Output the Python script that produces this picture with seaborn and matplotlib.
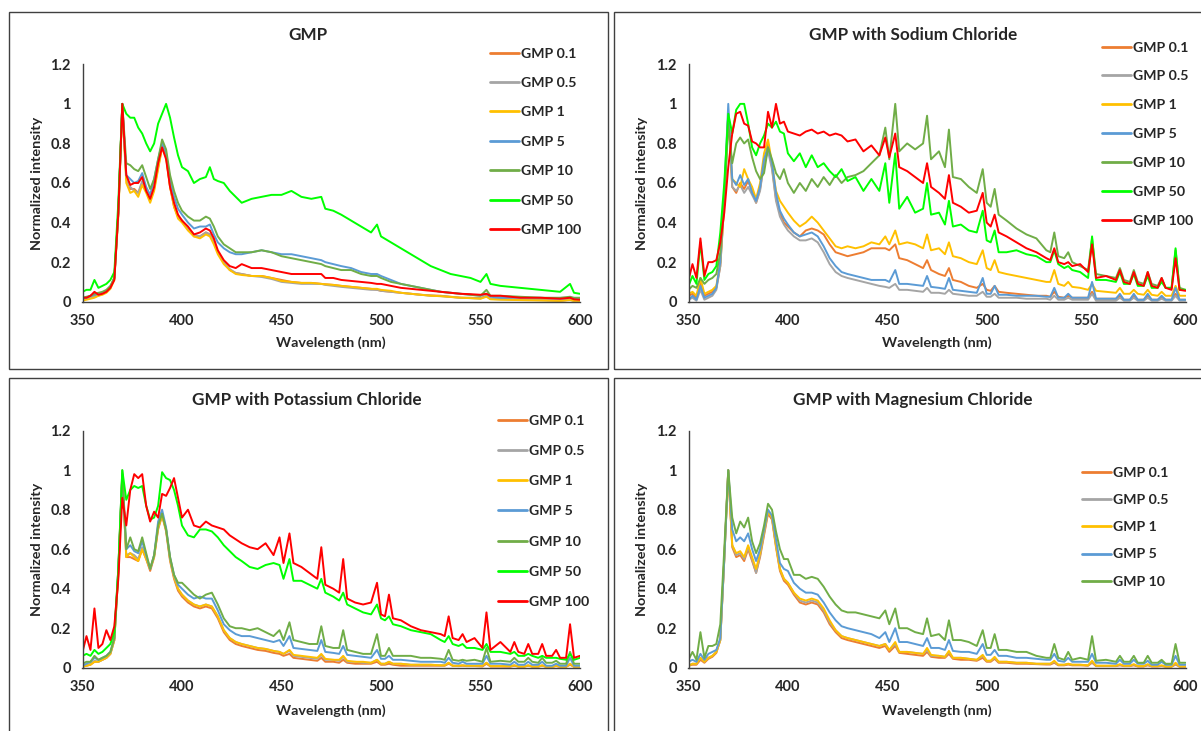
import matplotlib
matplotlib.use("Agg")
import matplotlib.pyplot as plt
import numpy as np
import pandas as pd
import seaborn as sns
from matplotlib.lines import Line2D
from matplotlib.patches import Rectangle
from matplotlib.ticker import FuncFormatter

sns.set_theme(style="white")
plt.rcParams["font.family"] = ["Lato", "DejaVu Sans"]

# ---------------- data ----------------
labels7 = ["GMP 0.1", "GMP 0.5", "GMP 1", "GMP 5", "GMP 10", "GMP 50", "GMP 100"]
labels5 = ["GMP 0.1", "GMP 0.5", "GMP 1", "GMP 5", "GMP 10"]
colors = {"GMP 0.1": "#ED7D31", "GMP 0.5": "#A5A5A5", "GMP 1": "#FFC000",
          "GMP 5": "#5B9BD5", "GMP 10": "#70AD47", "GMP 50": "#00FF00",
          "GMP 100": "#FF0000"}
titles = ["GMP", "GMP with Sodium Chloride", "GMP with Potassium Chloride",
          "GMP with Magnesium Chloride"]
x_ticks = [350, 400, 450, 500, 550, 600]
y_ticks = [0, 0.2, 0.4, 0.6, 0.8, 1.0, 1.2]

# wavelength grid, panel 1
wl_p1 = [350, 352, 354, 356, 358, 360, 362, 364, 366, 368,
         370, 372, 374, 376, 378, 380, 382, 384, 386, 388,
         390, 392, 394, 396, 398, 400,
         403, 406, 409, 412, 414, 416, 418, 421, 424, 427,
         430, 435, 440, 445,
         450, 455, 460, 465, 470, 472, 476, 480, 485, 490,
         495, 498, 500, 505, 510, 515, 520, 525, 530, 535,
         540, 545, 550, 553, 555, 560, 570, 580, 590, 595,
         597, 600]

p1_01 = [0.01, 0.015, 0.02, 0.03, 0.035, 0.04, 0.05, 0.07, 0.12, 0.45,
         1.0, 0.63, 0.57, 0.57, 0.55, 0.60, 0.56, 0.51, 0.57, 0.68,
         0.78, 0.74, 0.58, 0.48, 0.43, 0.41,
         0.37, 0.33, 0.33, 0.35, 0.34, 0.30, 0.25, 0.20, 0.16, 0.145,
         0.14, 0.13, 0.13, 0.12,
         0.11, 0.10, 0.095, 0.095, 0.09, 0.088, 0.085, 0.08, 0.075, 0.07,
         0.065, 0.06, 0.055, 0.05, 0.045, 0.04, 0.035, 0.032, 0.03, 0.025,
         0.02, 0.02, 0.018, 0.03, 0.015, 0.015, 0.01, 0.01, 0.005, 0.01,
         0.005, 0.005]
p1_05 = [0.01, 0.015, 0.02, 0.025, 0.03, 0.04, 0.05, 0.07, 0.12, 0.45,
         1.0, 0.62, 0.58, 0.56, 0.55, 0.61, 0.56, 0.52, 0.58, 0.69,
         0.79, 0.74, 0.59, 0.49, 0.43, 0.41,
         0.37, 0.34, 0.33, 0.35, 0.34, 0.30, 0.25, 0.20, 0.165, 0.145,
         0.14, 0.13, 0.125, 0.115,
         0.10, 0.095, 0.09, 0.09, 0.09, 0.085, 0.08, 0.075, 0.07, 0.065,
         0.06, 0.06, 0.055, 0.05, 0.045, 0.04, 0.035, 0.03, 0.028, 0.024,
         0.02, 0.018, 0.016, 0.028, 0.014, 0.012, 0.01, 0.008, 0.005, 0.01,
         0.005, 0.005]
p1_1 = [0.005, 0.01, 0.015, 0.02, 0.03, 0.035, 0.045, 0.065, 0.11, 0.43,
        0.98, 0.60, 0.55, 0.56, 0.53, 0.59, 0.55, 0.50, 0.56, 0.67,
        0.78, 0.73, 0.58, 0.48, 0.42, 0.40,
        0.36, 0.33, 0.32, 0.34, 0.33, 0.29, 0.24, 0.19, 0.16, 0.14,
        0.135, 0.13, 0.13, 0.12,
        0.105, 0.10, 0.095, 0.095, 0.09, 0.088, 0.085, 0.08, 0.075, 0.07,
        0.065, 0.065, 0.06, 0.055, 0.045, 0.04, 0.035, 0.03, 0.028, 0.024,
        0.02, 0.018, 0.015, 0.025, 0.012, 0.01, 0.008, 0.006, 0.004, 0.008,
        0.004, 0.004]
p1_5 = [0.02, 0.02, 0.03, 0.035, 0.04, 0.045, 0.055, 0.075, 0.12, 0.45,
        1.0, 0.64, 0.62, 0.60, 0.61, 0.65, 0.58, 0.54, 0.62, 0.72,
        0.80, 0.75, 0.62, 0.53, 0.47, 0.44,
        0.40, 0.37, 0.38, 0.38, 0.39, 0.34, 0.30, 0.27, 0.25, 0.24,
        0.24, 0.25, 0.26, 0.25,
        0.24, 0.24, 0.23, 0.22, 0.21, 0.20, 0.19, 0.18, 0.17, 0.15,
        0.14, 0.14, 0.13, 0.11, 0.09, 0.08, 0.07, 0.06, 0.05, 0.045,
        0.04, 0.035, 0.03, 0.04, 0.025, 0.02, 0.02, 0.02, 0.015, 0.02,
        0.015, 0.015]
p1_10 = [0.02, 0.025, 0.03, 0.04, 0.045, 0.05, 0.06, 0.08, 0.12, 0.45,
         1.0, 0.70, 0.69, 0.67, 0.66, 0.69, 0.63, 0.57, 0.62, 0.72,
         0.82, 0.77, 0.64, 0.56, 0.50, 0.46,
         0.43, 0.41, 0.41, 0.43, 0.42, 0.38, 0.33, 0.29, 0.27, 0.25,
         0.25, 0.25, 0.26, 0.25,
         0.23, 0.22, 0.21, 0.20, 0.19, 0.18, 0.17, 0.16, 0.16, 0.14,
         0.13, 0.13, 0.12, 0.10, 0.09, 0.08, 0.07, 0.06, 0.05, 0.045,
         0.04, 0.035, 0.03, 0.06, 0.03, 0.03, 0.025, 0.02, 0.02, 0.025,
         0.02, 0.02]
p1_50 = [0.05, 0.06, 0.06, 0.11, 0.07, 0.08, 0.09, 0.11, 0.15, 0.50,
         1.0, 0.95, 0.93, 0.93, 0.88, 0.85, 0.80, 0.76, 0.80, 0.90,
         0.95, 1.0, 0.93, 0.83, 0.74, 0.68,
         0.66, 0.60, 0.62, 0.63, 0.68, 0.62, 0.61, 0.60, 0.56, 0.53,
         0.50, 0.52, 0.53, 0.54,
         0.54, 0.56, 0.53, 0.52, 0.53, 0.47, 0.46, 0.44, 0.41, 0.38,
         0.35, 0.39, 0.33, 0.30, 0.27, 0.24, 0.21, 0.18, 0.16, 0.14,
         0.13, 0.12, 0.10, 0.14, 0.09, 0.08, 0.07, 0.06, 0.05, 0.09,
         0.045, 0.04]
p1_100 = [0.02, 0.02, 0.03, 0.05, 0.035, 0.04, 0.05, 0.07, 0.11, 0.45,
          1.0, 0.64, 0.59, 0.60, 0.60, 0.63, 0.56, 0.52, 0.58, 0.70,
          0.78, 0.72, 0.58, 0.50, 0.44, 0.41,
          0.38, 0.34, 0.35, 0.37, 0.36, 0.32, 0.26, 0.21, 0.18, 0.17,
          0.19, 0.17, 0.17, 0.16,
          0.15, 0.14, 0.14, 0.14, 0.14, 0.12, 0.12, 0.11, 0.105, 0.10,
          0.095, 0.09, 0.09, 0.08, 0.07, 0.065, 0.06, 0.055, 0.05, 0.045,
          0.04, 0.038, 0.035, 0.04, 0.03, 0.03, 0.02, 0.02, 0.015, 0.02,
          0.012, 0.01]

# wavelength grid, panels 2-4
wl_sp = [350, 352, 354, 356, 358, 360, 362, 364, 366, 368,
         370, 372, 374, 376, 378, 380, 382, 384, 386, 388,
         390, 392, 394, 396, 398, 400,
         403, 406, 409, 412, 415, 418, 421, 424, 427, 430,
         434, 438, 442, 446,
         449, 451, 454, 456, 460, 464, 468, 470, 472, 476,
         479, 481, 483, 487, 491, 495, 498, 500, 502, 504,
         506, 510,
         515, 520, 525, 530, 532, 534, 536, 539, 541, 543,
         547, 551, 553, 555, 560, 565, 567, 569, 572, 574,
         576, 579, 581, 583, 586, 588, 590, 593, 595, 597,
         600]

# Sodium chloride
p2_01 = [0.03, 0.04, 0.02, 0.10, 0.03, 0.04, 0.05, 0.07, 0.18, 0.50,
         0.95, 0.58, 0.55, 0.60, 0.57, 0.61, 0.56, 0.50, 0.57, 0.70,
         0.80, 0.68, 0.52, 0.45, 0.40, 0.38,
         0.35, 0.33, 0.36, 0.37, 0.36, 0.34, 0.29, 0.25, 0.24, 0.23,
         0.24, 0.25, 0.27, 0.27,
         0.27, 0.26, 0.29, 0.22, 0.21, 0.19, 0.17, 0.21, 0.16, 0.14,
         0.13, 0.17, 0.11, 0.10, 0.08, 0.07, 0.09, 0.06, 0.055, 0.08,
         0.05, 0.045,
         0.04, 0.035, 0.03, 0.03, 0.025, 0.05, 0.025, 0.02, 0.03, 0.02,
         0.02, 0.02, 0.05, 0.015, 0.015, 0.015, 0.03, 0.01, 0.01, 0.03,
         0.01, 0.01, 0.03, 0.01, 0.01, 0.02, 0.01, 0.01, 0.04, 0.01,
         0.01]
p2_05 = [0.01, 0.02, 0.005, 0.06, 0.01, 0.02, 0.03, 0.06, 0.18, 0.50,
         0.95, 0.58, 0.56, 0.59, 0.55, 0.58, 0.54, 0.50, 0.56, 0.70,
         0.76, 0.67, 0.51, 0.43, 0.39, 0.36,
         0.33, 0.31, 0.31, 0.32, 0.30, 0.25, 0.19, 0.15, 0.13, 0.12,
         0.11, 0.10, 0.09, 0.08,
         0.075, 0.07, 0.09, 0.06, 0.06, 0.055, 0.05, 0.07, 0.045, 0.045,
         0.04, 0.06, 0.04, 0.035, 0.03, 0.03, 0.05, 0.025, 0.025, 0.04,
         0.02, 0.02,
         0.02, 0.015, 0.015, 0.015, 0.01, 0.03, 0.01, 0.01, 0.02, 0.01,
         0.01, 0.01, 0.04, 0.005, 0.005, 0.005, 0.02, 0.005, 0.005, 0.02,
         0.005, 0.005, 0.02, 0.005, 0.005, 0.015, 0.005, 0.005, 0.03, 0.005,
         0.005]
p2_1 = [0.04, 0.05, 0.03, 0.12, 0.04, 0.05, 0.06, 0.08, 0.20, 0.50,
        0.95, 0.62, 0.60, 0.58, 0.67, 0.62, 0.58, 0.52, 0.60, 0.75,
        0.82, 0.70, 0.56, 0.51, 0.48, 0.45,
        0.41, 0.38, 0.40, 0.43, 0.40, 0.36, 0.32, 0.28, 0.27, 0.28,
        0.27, 0.28, 0.30, 0.29,
        0.33, 0.29, 0.36, 0.29, 0.30, 0.29, 0.27, 0.34, 0.26, 0.27,
        0.24, 0.30, 0.23, 0.22, 0.20, 0.19, 0.26, 0.17, 0.16, 0.21,
        0.15, 0.14,
        0.13, 0.12, 0.11, 0.10, 0.10, 0.16, 0.09, 0.08, 0.10, 0.075,
        0.07, 0.06, 0.09, 0.055, 0.05, 0.045, 0.07, 0.04, 0.04, 0.06,
        0.04, 0.035, 0.06, 0.035, 0.03, 0.05, 0.03, 0.03, 0.08, 0.03,
        0.03]
p2_5 = [0.01, 0.03, 0.01, 0.08, 0.02, 0.03, 0.04, 0.07, 0.20, 0.55,
        1.0, 0.62, 0.59, 0.64, 0.59, 0.62, 0.55, 0.51, 0.58, 0.72,
        0.78, 0.70, 0.55, 0.46, 0.42, 0.39,
        0.35, 0.33, 0.34, 0.35, 0.33, 0.28, 0.22, 0.18, 0.15, 0.14,
        0.13, 0.12, 0.11, 0.11,
        0.11, 0.10, 0.16, 0.09, 0.09, 0.085, 0.08, 0.13, 0.075, 0.07,
        0.065, 0.12, 0.06, 0.055, 0.05, 0.045, 0.12, 0.04, 0.04, 0.08,
        0.035, 0.035,
        0.03, 0.03, 0.03, 0.025, 0.025, 0.07, 0.02, 0.02, 0.04, 0.02,
        0.02, 0.02, 0.10, 0.015, 0.015, 0.015, 0.04, 0.01, 0.01, 0.04,
        0.01, 0.01, 0.04, 0.01, 0.01, 0.03, 0.01, 0.01, 0.07, 0.01,
        0.01]
p2_10 = [0.06, 0.08, 0.07, 0.12, 0.09, 0.11, 0.12, 0.14, 0.25, 0.50,
         0.90, 0.70, 0.80, 0.83, 0.80, 0.82, 0.73, 0.66, 0.62, 0.65,
         0.78, 0.72, 0.65, 0.62, 0.67, 0.60,
         0.55, 0.60, 0.56, 0.62, 0.58, 0.63, 0.59, 0.64, 0.60, 0.63,
         0.64, 0.66, 0.70, 0.74,
         0.88, 0.72, 1.0, 0.76, 0.80, 0.77, 0.80, 0.94, 0.72, 0.76,
         0.68, 0.87, 0.63, 0.62, 0.58, 0.55, 0.67, 0.50, 0.48, 0.57,
         0.44, 0.41,
         0.37, 0.34, 0.32, 0.26, 0.25, 0.35, 0.23, 0.22, 0.25, 0.20,
         0.18, 0.16, 0.32, 0.14, 0.13, 0.12, 0.17, 0.11, 0.10, 0.16,
         0.10, 0.09, 0.15, 0.09, 0.08, 0.12, 0.07, 0.07, 0.26, 0.07,
         0.06]
p2_50 = [0.08, 0.13, 0.09, 0.30, 0.11, 0.14, 0.15, 0.18, 0.35, 0.60,
         0.95, 0.85, 0.97, 1.0, 1.0, 0.90, 0.78, 0.74, 0.80, 0.84,
         0.90, 0.88, 0.91, 0.86, 0.85, 0.75,
         0.71, 0.75, 0.68, 0.74, 0.68, 0.70, 0.66, 0.63, 0.67, 0.61,
         0.63, 0.56, 0.62, 0.56,
         0.70, 0.50, 0.75, 0.47, 0.53, 0.45, 0.47, 0.60, 0.44, 0.45,
         0.39, 0.51, 0.38, 0.39, 0.36, 0.35, 0.46, 0.31, 0.30, 0.36,
         0.25, 0.25,
         0.26, 0.24, 0.23, 0.20, 0.20, 0.26, 0.19, 0.17, 0.18, 0.16,
         0.15, 0.12, 0.33, 0.11, 0.11, 0.10, 0.15, 0.09, 0.09, 0.14,
         0.08, 0.08, 0.13, 0.07, 0.07, 0.10, 0.07, 0.07, 0.27, 0.06,
         0.06]
p2_100 = [0.11, 0.19, 0.12, 0.32, 0.13, 0.20, 0.20, 0.21, 0.30, 0.45,
          0.68, 0.85, 0.95, 0.96, 0.90, 0.89, 0.81, 0.80, 0.78, 0.78,
          0.96, 0.88, 1.0, 0.90, 0.91, 0.86,
          0.85, 0.84, 0.86, 0.87, 0.85, 0.86, 0.84, 0.85, 0.84, 0.81,
          0.82, 0.76, 0.79, 0.74,
          0.83, 0.73, 0.85, 0.68, 0.66, 0.63, 0.60, 0.70, 0.58, 0.55,
          0.52, 0.64, 0.50, 0.48, 0.45, 0.46, 0.55, 0.40, 0.38, 0.44,
          0.35, 0.33,
          0.30, 0.27, 0.25, 0.22, 0.21, 0.27, 0.20, 0.19, 0.20, 0.18,
          0.19, 0.15, 0.29, 0.12, 0.13, 0.11, 0.16, 0.10, 0.09, 0.15,
          0.09, 0.08, 0.15, 0.08, 0.07, 0.12, 0.07, 0.06, 0.22, 0.06,
          0.055]

# Potassium chloride
p3_01 = [0.005, 0.01, 0.015, 0.03, 0.03, 0.04, 0.05, 0.07, 0.14, 0.48,
         0.98, 0.56, 0.56, 0.55, 0.54, 0.60, 0.55, 0.49, 0.56, 0.70,
         0.77, 0.69, 0.54, 0.45, 0.39, 0.36,
         0.33, 0.31, 0.30, 0.31, 0.30, 0.25, 0.18, 0.14, 0.12, 0.11,
         0.10, 0.09, 0.085, 0.075,
         0.07, 0.06, 0.07, 0.05, 0.045, 0.04, 0.035, 0.05, 0.03, 0.03,
         0.025, 0.04, 0.025, 0.02, 0.02, 0.02, 0.03, 0.015, 0.015, 0.02,
         0.015, 0.01,
         0.01, 0.01, 0.01, 0.01, 0.01, 0.02, 0.01, 0.008, 0.01, 0.008,
         0.008, 0.006, 0.02, 0.006, 0.006, 0.005, 0.01, 0.005, 0.005, 0.01,
         0.005, 0.005, 0.01, 0.004, 0.004, 0.008, 0.004, 0.004, 0.015, 0.004,
         0.004]
p3_05 = [0.005, 0.01, 0.02, 0.035, 0.03, 0.04, 0.05, 0.07, 0.14, 0.48,
         0.97, 0.57, 0.58, 0.57, 0.55, 0.61, 0.56, 0.50, 0.57, 0.71,
         0.78, 0.70, 0.55, 0.46, 0.40, 0.37,
         0.34, 0.32, 0.31, 0.32, 0.31, 0.26, 0.19, 0.15, 0.13, 0.12,
         0.11, 0.10, 0.095, 0.085,
         0.08, 0.07, 0.085, 0.06, 0.055, 0.05, 0.045, 0.065, 0.04, 0.04,
         0.035, 0.055, 0.03, 0.03, 0.025, 0.025, 0.04, 0.02, 0.02, 0.03,
         0.02, 0.02,
         0.015, 0.015, 0.015, 0.012, 0.012, 0.025, 0.01, 0.01, 0.012, 0.01,
         0.01, 0.01, 0.025, 0.008, 0.008, 0.008, 0.012, 0.006, 0.006, 0.012,
         0.006, 0.006, 0.012, 0.005, 0.005, 0.01, 0.005, 0.005, 0.02, 0.005,
         0.005]
p3_1 = [0.005, 0.01, 0.015, 0.03, 0.03, 0.04, 0.05, 0.07, 0.14, 0.48,
        0.97, 0.56, 0.58, 0.56, 0.54, 0.60, 0.55, 0.50, 0.56, 0.71,
        0.77, 0.70, 0.55, 0.46, 0.40, 0.37,
        0.34, 0.32, 0.31, 0.32, 0.31, 0.26, 0.19, 0.15, 0.13, 0.12,
        0.11, 0.10, 0.095, 0.085,
        0.08, 0.07, 0.09, 0.065, 0.06, 0.055, 0.05, 0.07, 0.045, 0.04,
        0.04, 0.06, 0.035, 0.03, 0.03, 0.025, 0.04, 0.02, 0.02, 0.03,
        0.02, 0.02,
        0.015, 0.015, 0.015, 0.012, 0.012, 0.025, 0.01, 0.01, 0.012, 0.01,
        0.01, 0.01, 0.025, 0.008, 0.008, 0.008, 0.012, 0.006, 0.006, 0.012,
        0.006, 0.006, 0.012, 0.005, 0.005, 0.01, 0.005, 0.005, 0.02, 0.005,
        0.005]
p3_5 = [0.01, 0.02, 0.03, 0.05, 0.04, 0.05, 0.06, 0.08, 0.15, 0.50,
        0.98, 0.60, 0.62, 0.59, 0.58, 0.64, 0.57, 0.50, 0.57, 0.74,
        0.80, 0.71, 0.56, 0.47, 0.42, 0.40,
        0.37, 0.35, 0.36, 0.35, 0.35, 0.29, 0.22, 0.19, 0.17, 0.16,
        0.16, 0.15, 0.14, 0.13,
        0.14, 0.11, 0.16, 0.10, 0.095, 0.09, 0.085, 0.14, 0.08, 0.075,
        0.07, 0.11, 0.065, 0.06, 0.055, 0.05, 0.09, 0.045, 0.045, 0.06,
        0.04, 0.04,
        0.035, 0.03, 0.03, 0.03, 0.025, 0.05, 0.025, 0.02, 0.03, 0.02,
        0.02, 0.02, 0.06, 0.02, 0.02, 0.015, 0.03, 0.015, 0.015, 0.03,
        0.015, 0.015, 0.03, 0.01, 0.01, 0.02, 0.01, 0.01, 0.05, 0.01,
        0.01]
p3_10 = [0.02, 0.03, 0.03, 0.06, 0.04, 0.05, 0.06, 0.08, 0.15, 0.50,
         1.0, 0.60, 0.66, 0.60, 0.59, 0.66, 0.58, 0.50, 0.57, 0.72,
         0.78, 0.70, 0.56, 0.47, 0.43, 0.43,
         0.40, 0.37, 0.35, 0.37, 0.38, 0.32, 0.25, 0.21, 0.20, 0.20,
         0.19, 0.20, 0.18, 0.16,
         0.19, 0.14, 0.23, 0.14, 0.13, 0.12, 0.12, 0.21, 0.11, 0.10,
         0.10, 0.19, 0.09, 0.08, 0.07, 0.07, 0.17, 0.06, 0.06, 0.10,
         0.06, 0.06,
         0.06, 0.05, 0.05, 0.045, 0.04, 0.09, 0.04, 0.035, 0.04, 0.035,
         0.04, 0.03, 0.10, 0.03, 0.035, 0.03, 0.05, 0.03, 0.03, 0.05,
         0.03, 0.025, 0.05, 0.025, 0.025, 0.035, 0.02, 0.02, 0.08, 0.02,
         0.02]
p3_50 = [0.06, 0.07, 0.06, 0.09, 0.07, 0.08, 0.10, 0.12, 0.18, 0.50,
         1.0, 0.85, 0.90, 0.92, 0.91, 0.92, 0.82, 0.75, 0.76, 0.82,
         0.99, 0.96, 0.95, 0.90, 0.82, 0.72,
         0.67, 0.66, 0.70, 0.70, 0.69, 0.66, 0.62, 0.59, 0.56, 0.54,
         0.51, 0.50, 0.52, 0.53,
         0.52, 0.45, 0.55, 0.44, 0.44, 0.42, 0.40, 0.45, 0.38, 0.36,
         0.34, 0.38, 0.32, 0.30, 0.28, 0.27, 0.32, 0.25, 0.24, 0.26,
         0.22, 0.21,
         0.19, 0.18, 0.17, 0.14, 0.13, 0.16, 0.12, 0.11, 0.12, 0.10,
         0.10, 0.09, 0.12, 0.08, 0.08, 0.07, 0.08, 0.06, 0.06, 0.07,
         0.06, 0.05, 0.06, 0.05, 0.05, 0.05, 0.045, 0.04, 0.07, 0.04,
         0.05]
p3_100 = [0.08, 0.16, 0.09, 0.30, 0.10, 0.12, 0.19, 0.14, 0.21, 0.45,
          0.86, 0.72, 0.90, 0.98, 0.96, 0.98, 0.82, 0.74, 0.79, 0.76,
          0.88, 0.87, 0.91, 0.96, 0.86, 0.76,
          0.80, 0.72, 0.71, 0.74, 0.72, 0.71, 0.70, 0.67, 0.65, 0.63,
          0.61, 0.60, 0.63, 0.57,
          0.66, 0.53, 0.68, 0.53, 0.51, 0.48, 0.45, 0.61, 0.42, 0.40,
          0.38, 0.55, 0.35, 0.33, 0.32, 0.33, 0.43, 0.27, 0.26, 0.37,
          0.25, 0.24,
          0.21, 0.19, 0.18, 0.17, 0.16, 0.26, 0.15, 0.14, 0.17, 0.13,
          0.15, 0.10, 0.28, 0.09, 0.13, 0.08, 0.13, 0.08, 0.07, 0.12,
          0.07, 0.07, 0.12, 0.06, 0.06, 0.09, 0.05, 0.05, 0.22, 0.05,
          0.06]

# Magnesium chloride
p4_01 = [0.01, 0.015, 0.015, 0.04, 0.025, 0.045, 0.055, 0.075, 0.14, 0.55,
         1.0, 0.61, 0.56, 0.57, 0.54, 0.60, 0.54, 0.48, 0.56, 0.67,
         0.78, 0.75, 0.61, 0.49, 0.44, 0.42,
         0.37, 0.33, 0.32, 0.33, 0.32, 0.28, 0.22, 0.18, 0.15, 0.14,
         0.13, 0.12, 0.11, 0.10,
         0.11, 0.08, 0.11, 0.075, 0.07, 0.065, 0.06, 0.08, 0.055, 0.05,
         0.05, 0.07, 0.045, 0.04, 0.04, 0.035, 0.05, 0.03, 0.03, 0.045,
         0.025, 0.025,
         0.02, 0.02, 0.018, 0.016, 0.016, 0.025, 0.012, 0.012, 0.016, 0.012,
         0.012, 0.01, 0.025, 0.008, 0.008, 0.008, 0.012, 0.008, 0.008, 0.012,
         0.006, 0.006, 0.012, 0.006, 0.006, 0.008, 0.005, 0.005, 0.016, 0.005,
         0.005]
p4_05 = [0.01, 0.02, 0.02, 0.05, 0.03, 0.05, 0.06, 0.08, 0.14, 0.55,
         1.0, 0.62, 0.57, 0.58, 0.55, 0.61, 0.55, 0.48, 0.57, 0.68,
         0.79, 0.76, 0.62, 0.50, 0.45, 0.43,
         0.38, 0.34, 0.33, 0.34, 0.33, 0.29, 0.23, 0.19, 0.16, 0.15,
         0.14, 0.13, 0.12, 0.11,
         0.12, 0.09, 0.12, 0.08, 0.08, 0.075, 0.07, 0.09, 0.06, 0.06,
         0.055, 0.08, 0.05, 0.05, 0.045, 0.04, 0.06, 0.035, 0.035, 0.05,
         0.03, 0.03,
         0.025, 0.025, 0.02, 0.02, 0.02, 0.03, 0.015, 0.015, 0.02, 0.015,
         0.015, 0.012, 0.03, 0.01, 0.01, 0.01, 0.015, 0.01, 0.01, 0.015,
         0.008, 0.008, 0.015, 0.008, 0.008, 0.01, 0.006, 0.006, 0.02, 0.006,
         0.006]
p4_1 = [0.01, 0.02, 0.02, 0.05, 0.03, 0.05, 0.06, 0.08, 0.14, 0.55,
        1.0, 0.62, 0.58, 0.59, 0.56, 0.62, 0.56, 0.50, 0.58, 0.69,
        0.79, 0.76, 0.62, 0.50, 0.45, 0.43,
        0.38, 0.35, 0.34, 0.35, 0.34, 0.30, 0.24, 0.19, 0.16, 0.15,
        0.14, 0.13, 0.12, 0.11,
        0.12, 0.09, 0.13, 0.08, 0.08, 0.075, 0.07, 0.10, 0.065, 0.06,
        0.055, 0.085, 0.05, 0.05, 0.045, 0.04, 0.065, 0.035, 0.035, 0.055,
        0.03, 0.03,
        0.025, 0.025, 0.02, 0.02, 0.02, 0.035, 0.015, 0.015, 0.02, 0.015,
        0.015, 0.012, 0.035, 0.01, 0.01, 0.01, 0.018, 0.01, 0.01, 0.018,
        0.008, 0.008, 0.018, 0.008, 0.008, 0.012, 0.006, 0.006, 0.025, 0.006,
        0.006]
p4_5 = [0.03, 0.04, 0.03, 0.07, 0.04, 0.07, 0.08, 0.09, 0.15, 0.55,
        1.0, 0.70, 0.64, 0.66, 0.64, 0.68, 0.60, 0.54, 0.60, 0.70,
        0.80, 0.77, 0.65, 0.53, 0.50, 0.49,
        0.43, 0.40, 0.38, 0.38, 0.37, 0.33, 0.28, 0.24, 0.21, 0.20,
        0.19, 0.18, 0.17, 0.15,
        0.18, 0.13, 0.20, 0.13, 0.13, 0.12, 0.11, 0.15, 0.10, 0.10,
        0.09, 0.14, 0.085, 0.08, 0.08, 0.07, 0.12, 0.065, 0.065, 0.09,
        0.06, 0.06,
        0.05, 0.05, 0.045, 0.04, 0.04, 0.07, 0.035, 0.03, 0.05, 0.03,
        0.03, 0.03, 0.07, 0.025, 0.025, 0.02, 0.04, 0.02, 0.02, 0.04,
        0.02, 0.02, 0.035, 0.015, 0.015, 0.03, 0.015, 0.015, 0.06, 0.015,
        0.015]
p4_10 = [0.04, 0.08, 0.04, 0.18, 0.05, 0.11, 0.11, 0.12, 0.22, 0.60,
         1.0, 0.76, 0.68, 0.74, 0.71, 0.76, 0.64, 0.58, 0.63, 0.72,
         0.83, 0.80, 0.69, 0.60, 0.55, 0.55,
         0.47, 0.47, 0.45, 0.46, 0.45, 0.41, 0.36, 0.32, 0.29, 0.28,
         0.28, 0.27, 0.26, 0.25,
         0.29, 0.22, 0.30, 0.20, 0.20, 0.18, 0.17, 0.25, 0.16, 0.17,
         0.14, 0.24, 0.14, 0.14, 0.13, 0.11, 0.19, 0.10, 0.10, 0.17,
         0.09, 0.09,
         0.08, 0.08, 0.06, 0.05, 0.05, 0.12, 0.05, 0.04, 0.08, 0.04,
         0.05, 0.04, 0.16, 0.035, 0.04, 0.03, 0.06, 0.03, 0.03, 0.06,
         0.025, 0.025, 0.06, 0.025, 0.025, 0.04, 0.02, 0.02, 0.12, 0.025,
         0.025]

# ---------------- layout (pixels in a 1201 x 731 canvas) ----------------
W, H = 1201, 731
fig = plt.figure(figsize=(W / 100, H / 100), dpi=100)
fig.patch.set_facecolor("white")
INK = "#262626"
AXC = "#404040"
LEG_FS = 10.2

panels = [
    dict(title=titles[0], wl=wl_p1, labels=labels7,
         data=[p1_01, p1_05, p1_1, p1_5, p1_10, p1_50, p1_100],
         box=(8.5, 12.5, 607.5, 369), plot=(82.5, 64.3, 580, 301.7),
         tcx=308, tcy=35, leg=(490, 47.5, 1.23), ylx=37, xly=343),
    dict(title=titles[1], wl=wl_sp, labels=labels7,
         data=[p2_01, p2_05, p2_1, p2_5, p2_10, p2_50, p2_100],
         box=(614, 12.5, 1207, 369), plot=(688.5, 64.3, 1185.5, 301.7),
         tcx=913, tcy=35, leg=(1102, 41.5, 1.19), ylx=642, xly=343),
    dict(title=titles[2], wl=wl_sp, labels=labels7,
         data=[p3_01, p3_05, p3_1, p3_5, p3_10, p3_50, p3_100],
         box=(8.5, 378, 607.5, 737), plot=(82.5, 430.7, 580, 667.7),
         tcx=307, tcy=400, leg=(498, 414.5, 1.29), ylx=37, xly=711),
    dict(title=titles[3], wl=wl_sp, labels=labels5,
         data=[p4_01, p4_05, p4_1, p4_5, p4_10],
         box=(614, 378, 1207, 737), plot=(688.5, 430.7, 1185.5, 667.7),
         tcx=913, tcy=400, leg=(1082, 467, 1.07), ylx=642, xly=711),
]

for spec in panels:
    wl = spec["wl"]
    for lab, ser in zip(spec["labels"], spec["data"]):
        if len(ser) != len(wl):
            raise ValueError(f"{spec['title']} {lab}: {len(ser)} vs {len(wl)}")

    bx0, by0, bx1, by1 = spec["box"]
    fig.add_artist(Rectangle((bx0 / W, 1 - by1 / H), (bx1 - bx0) / W, (by1 - by0) / H,
                             transform=fig.transFigure, fill=False,
                             edgecolor=AXC, linewidth=1.0))

    x0, y0, x1, y1 = spec["plot"]
    ax = fig.add_axes([x0 / W, 1 - y1 / H, (x1 - x0) / W, (y1 - y0) / H])
    ax.set_facecolor("white")

    frames = []
    for lab, ser in zip(spec["labels"], spec["data"]):
        frames.append(pd.DataFrame({"Wavelength": wl, "Intensity": ser, "Series": lab}))
    df = pd.concat(frames, ignore_index=True)
    sns.lineplot(data=df, x="Wavelength", y="Intensity", hue="Series",
                 hue_order=spec["labels"], palette=colors, estimator=None,
                 sort=False, legend=False, linewidth=1.4, ax=ax)

    ax.set_xlim(350, 600)
    ax.set_ylim(0, 1.2)
    ax.set_xticks(x_ticks)
    ax.set_yticks(y_ticks)
    ax.yaxis.set_major_formatter(FuncFormatter(lambda v, p: f"{v:g}"))
    for s in ["top", "right"]:
        ax.spines[s].set_visible(False)
    for s in ["left", "bottom"]:
        ax.spines[s].set_color(AXC)
        ax.spines[s].set_linewidth(1.0)
    ax.tick_params(axis="y", direction="out", length=4, width=1, color=AXC,
                   labelsize=10.5, labelcolor=INK, pad=4.5)
    ax.tick_params(axis="x", direction="out", length=3, width=1, color=AXC,
                   labelsize=10.5, labelcolor=INK, pad=5.5)
    for t in ax.get_xticklabels() + ax.get_yticklabels():
        t.set_fontweight("bold")

    ax.set_xlabel("Wavelength (nm)", fontsize=10.4, fontweight="bold", color=INK)
    ax.set_ylabel("Normalized intensity", fontsize=10.4, fontweight="bold", color=INK)
    ax.xaxis.set_label_coords(0.5, (y1 - spec["xly"]) / (y1 - y0))
    ax.xaxis.label.set_va("center")
    ax.yaxis.set_label_coords((spec["ylx"] - x0) / (x1 - x0), 0.5)
    ax.yaxis.label.set_va("center")
    ax.yaxis.label.set_ha("center")

    fig.text(spec["tcx"] / W, 1 - spec["tcy"] / H, spec["title"], ha="center",
             va="center", fontsize=12.3, fontweight="bold", color=INK)

    lx, ly, lsp = spec["leg"]
    handles = [Line2D([], [], color=colors[l], linewidth=2.0) for l in spec["labels"]]
    ax.legend(handles, spec["labels"], loc="upper left",
              bbox_to_anchor=(lx / W, 1 - ly / H), bbox_transform=fig.transFigure,
              frameon=False, borderpad=0, borderaxespad=0, handlelength=2.05,
              handletextpad=0.15, labelspacing=lsp,
              prop=dict(size=LEG_FS, weight="bold"), labelcolor=INK)

fig.savefig("out.png", dpi=100, facecolor="white")
